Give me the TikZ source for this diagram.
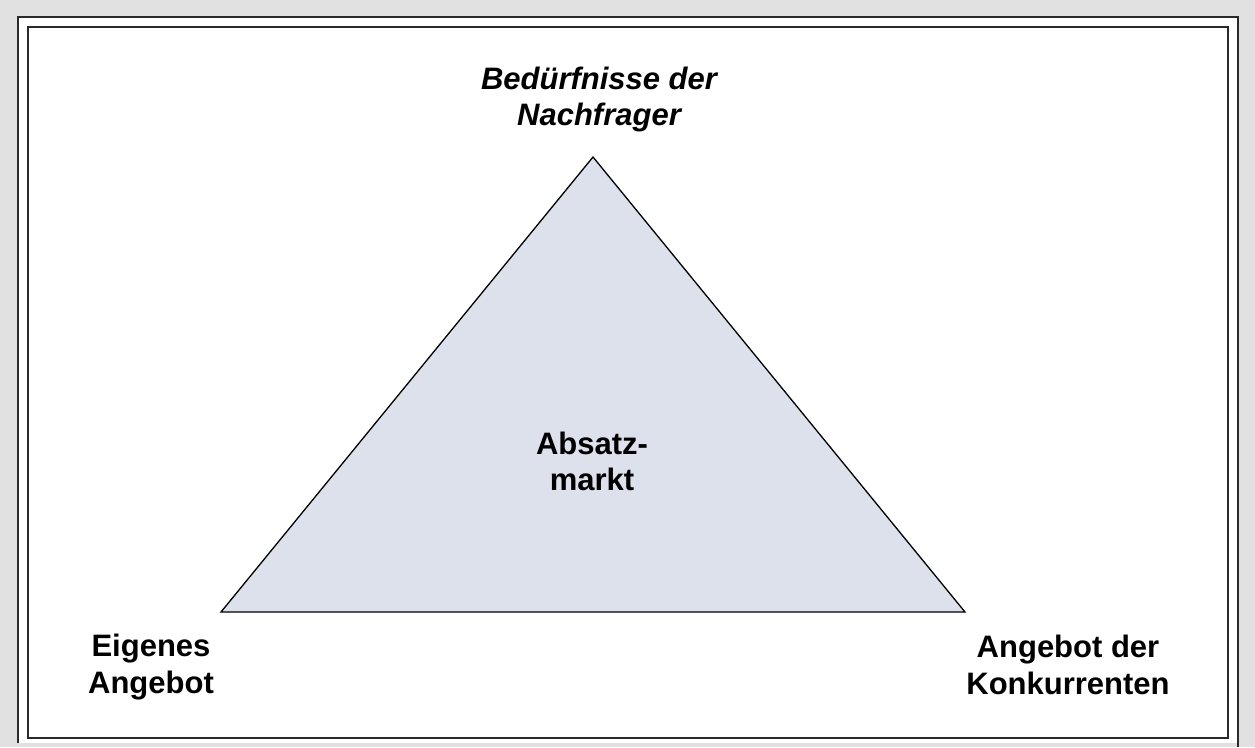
\documentclass[tikz,border=0pt]{standalone}
\usepackage{fontspec}
\setmainfont{Liberation Sans}
\definecolor{bggray}{HTML}{E1E1E1}
\definecolor{trifill}{HTML}{DDE1EC}
\definecolor{framecol}{HTML}{2A2A2A}
\begin{document}
\begin{tikzpicture}[x=1pt,y=-1pt,
  lbl/.style={align=center,inner sep=0pt,font=\fontsize{31}{37}\selectfont\bfseries},
  framestyle/.style={draw=framecol,line width=2pt}]
\useasboundingbox (0,0) rectangle (1255,747);
\fill[bggray] (0,0) rectangle (1255,747);
\fill[white] (18,17) rectangle (1238,743);
\draw[framestyle] (18,743) -- (18,17) -- (1238,17) -- (1238,747);
\draw[framestyle] (28,27) rectangle (1228,738);
\coordinate (apex) at (593,157);
\coordinate (bl) at (221,612);
\coordinate (br) at (965,612);
\draw[fill=trifill,draw=black,line width=1.3pt,line join=miter] (apex) -- (bl) -- (br) -- cycle;
\node[lbl,font=\fontsize{31}{36}\selectfont\bfseries\itshape] (top) at (599,99) {Bedürfnisse der\\Nachfrager};
\node[lbl,font=\fontsize{31}{36}\selectfont\bfseries] (mid) at (592,461) {Absatz-\\markt};
\node[lbl] (left) at (151,667) {Eigenes\\Angebot};
\node[lbl] (right) at (1068,665) {Angebot der\\Konkurrenten};
\end{tikzpicture}
\end{document}
